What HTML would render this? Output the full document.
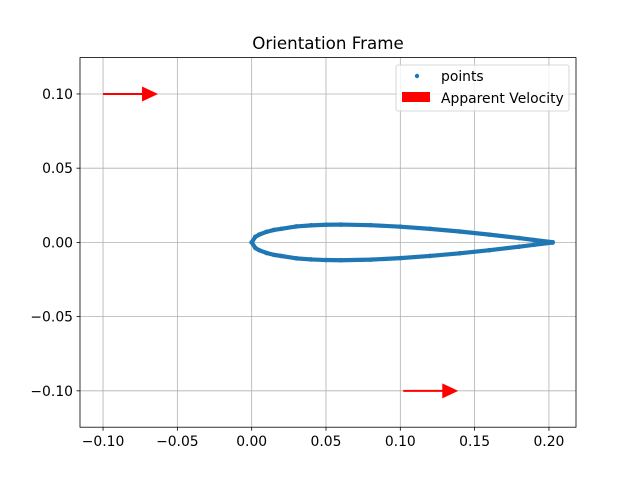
<!DOCTYPE html>
<html><head><meta charset="utf-8"><style>
body{margin:0;background:#fff}
text{font-family:"DejaVu Sans","Liberation Sans",sans-serif;font-size:13.9px;fill:#000}
</style></head><body>
<svg id="chart" width="640" height="480">
<rect width="640" height="480" fill="#fff"/>
<text x="328" y="49" text-anchor="middle" style="font-size:16.7px">Orientation Frame</text>
<g id="grid"></g>
<g id="series"></g>
<rect x="80" y="57.6" width="496" height="369.6" fill="none" stroke="#000" stroke-width="0.8"/>
<g id="ticks"></g>
<g>
<rect x="396" y="65" width="173" height="46" rx="2" fill="#fff" fill-opacity="0.8" stroke="#ccc" stroke-width="0.8"/>
<circle cx="417" cy="76" r="2.2" fill="#1f77b4"/>
<text x="441" y="81">points</text>
<rect x="402" y="92" width="28" height="10" fill="#ff0000"/>
<text x="441" y="103">Apparent Velocity</text>
</g>
</svg>
<script>
const xTicks=[-0.10,-0.05,0.00,0.05,0.10,0.15,0.20];
const yTicks=[-0.10,-0.05,0.00,0.05,0.10];
const chordX=[0,0.0025,0.005,0.01,0.015,0.02,0.03,0.04,0.05,0.06,0.08,0.1,0.12,0.14,0.16,0.18,0.19,0.2025];
const upperY=[0,0.003788,0.00523,0.00711,0.0084,0.00917,0.01075,0.01148,0.011882,0.012004,0.011606,0.010588,0.009126,0.007328,0.005246,0.002896,0.001614,0.0001];
const lowerY=[0,-0.003788,-0.00523,-0.00711,-0.0084,-0.00917,-0.01075,-0.01148,-0.011882,-0.012004,-0.011606,-0.010588,-0.009126,-0.007328,-0.005246,-0.002896,-0.001614,-0.0001];
const arrowX=[-0.1,0.102];
const arrowY=[0.1,-0.1];
const arrowU=[0.037,0.037];
const xMin=-0.1155,xMax=0.2182,yMin=-0.1245,yMax=0.1245;
const L=80,R=576,T=57.6,B=427.2;
const sx=v=>L+(v-xMin)/(xMax-xMin)*(R-L);
const sy=v=>B-(v-yMin)/(yMax-yMin)*(B-T);
const NS='http://www.w3.org/2000/svg';
function mk(tag,attrs,parent){const e=document.createElementNS(NS,tag);for(const k in attrs)e.setAttribute(k,attrs[k]);parent.appendChild(e);return e;}
const grid=document.getElementById('grid'),ticks=document.getElementById('ticks'),series=document.getElementById('series');
xTicks.forEach(v=>{const x=sx(v);
 let g=mk('line',{x1:x,x2:x,y1:T,y2:B,stroke:'#b0b0b0','stroke-width':0.8},grid);
 
 
 let t=mk('line',{x1:x,x2:x,y1:B,y2:B+3.5,stroke:'#000','stroke-width':0.8},ticks);
 
 
 let l=mk('text',{x:x,y:B+19,'text-anchor':'middle'},ticks);l.textContent=(v<0?'\u2212':'')+Math.abs(v).toFixed(2);
 
 
});
yTicks.forEach(v=>{const y=sy(v);
 let g=mk('line',{x1:L,x2:R,y1:y,y2:y,stroke:'#b0b0b0','stroke-width':0.8},grid);
 
 
 let t=mk('line',{x1:L-3.5,x2:L,y1:y,y2:y,stroke:'#000','stroke-width':0.8},ticks);
 
 
 let l=mk('text',{x:L-7,y:y+5,'text-anchor':'end'},ticks);l.textContent=(v<0?'\u2212':'')+Math.abs(v).toFixed(2);
 
 
});
let d='';
chordX.forEach((x,i)=>{d+=(i?'L':'M')+sx(x)+' '+sy(upperY[i]);});
for(let i=chordX.length-1;i>=0;i--)d+='L'+sx(chordX[i])+' '+sy(lowerY[i]);
const p=mk('path',{d:d,fill:'none',stroke:'#1f77b4','stroke-width':4.2,'stroke-linejoin':'round','stroke-linecap':'round'},series);


chordX.forEach((x,i)=>{[upperY[i],lowerY[i]].forEach(y=>{
 const c=mk('circle',{cx:sx(x),cy:sy(y),r:2.3,fill:'#1f77b4'},series);
 
 
});});
arrowX.forEach((x,i)=>{
 const x0=sx(x),y0=sy(arrowY[i]),x1=sx(x+arrowU[i]);
 const hl=16,hw=7.5;
 const a=mk('path',{d:`M${x0} ${y0-1}L${x1-hl} ${y0-1}L${x1-hl} ${y0-hw}L${x1} ${y0}L${x1-hl} ${y0+hw}L${x1-hl} ${y0+1}L${x0} ${y0+1}Z`,fill:'#ff0000'},series);
 
 
});
</script>
</body></html>
